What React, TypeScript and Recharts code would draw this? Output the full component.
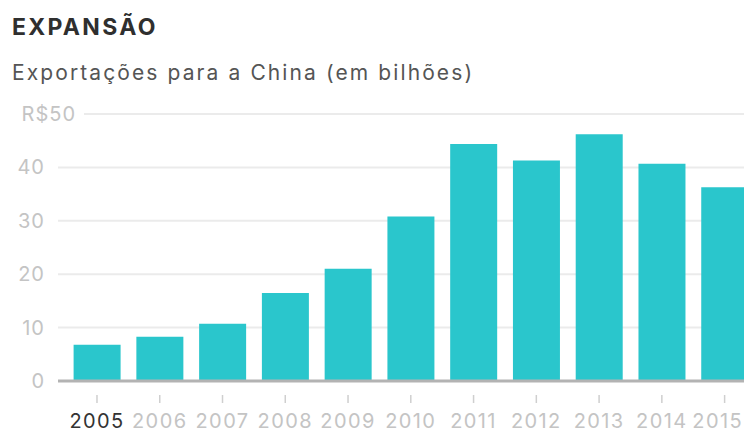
import { Bar, BarChart, CartesianGrid, XAxis, YAxis } from "recharts";

const YEARS = ["2005", "2006", "2007", "2008", "2009", "2010", "2011", "2012", "2013", "2014", "2015"];
const EXPORTS = [6.8, 8.3, 10.7, 16.5, 21.0, 30.8, 44.4, 41.3, 46.2, 40.7, 36.3];
const Y_TICKS = [0, 10, 20, 30, 40, 50];

const TITLE = "EXPANSÃO";
const SUBTITLE = "Exportações para a China (em bilhões)";

const COLORS = {
  bar: "#2ac6cc",
  grid: "#ebebeb",
  axis: "#b3b3b3",
  tick: "#c4c4c4",
  tickMark: "#cfcfcf",
  firstYear: "#333333",
  title: "#2f2f2f",
  subtitle: "#555555",
};

const FONT = "Inter, 'Open Sans', sans-serif";

const data = YEARS.map((year, i) => ({ year, value: EXPORTS[i] }));

function YTick({ y, payload }: any) {
  const top = payload.value === Y_TICKS[Y_TICKS.length - 1];
  return (
    <text
      x={top ? 76 : 45}
      y={y}
      textAnchor="end"
      dominantBaseline="central"
      fontSize={20}
      letterSpacing={1}
      fontFamily={FONT}
      fill={COLORS.tick}
    >
      {top ? `R$${payload.value}` : payload.value}
    </text>
  );
}

function XTick({ x, y, payload, index }: any) {
  // the last label is pulled in so it stays inside the frame
  const last = index === YEARS.length - 1;
  return (
    <g>
      <line x1={x} x2={x} y1={y + 14} y2={y + 22} stroke={COLORS.tickMark} strokeWidth={1.5} />
      <text
        x={last ? 743 : x}
        y={y + 47}
        textAnchor={last ? "end" : "middle"}
        fontSize={20}
        letterSpacing={1.4}
        fontFamily={FONT}
        fill={index === 0 ? COLORS.firstYear : COLORS.tick}
      >
        {payload.value}
      </text>
    </g>
  );
}

function gridLine(p: any) {
  // the top line starts after the wider "R$50" label
  const x1 = p.index === Y_TICKS.length - 1 || p.y1 < 120 ? 84 : p.x1;
  return <line key={p.key} x1={x1} x2={p.x2} y1={p.y1} y2={p.y2} stroke={COLORS.grid} strokeWidth={2} />;
}

export default function App() {
  return (
    <div
      style={{
        position: "fixed",
        left: 0,
        top: 0,
        width: 744,
        height: 432,
        overflow: "hidden",
        background: "#fff",
        fontFamily: FONT,
      }}
    >
      <div
        style={{
          position: "absolute",
          left: 12,
          top: 13,
          fontSize: 23,
          fontWeight: 700,
          letterSpacing: 2.3,
          color: COLORS.title,
          whiteSpace: "nowrap",
        }}
      >
        {TITLE}
      </div>
      <div
        style={{
          position: "absolute",
          left: 12,
          top: 60,
          fontSize: 21,
          letterSpacing: 2.1,
          color: COLORS.subtitle,
          whiteSpace: "nowrap",
        }}
      >
        {SUBTITLE}
      </div>
      <div style={{ position: "absolute", left: 0, top: 0 }}>
        <BarChart width={756} height={432} data={data} margin={{ top: 114, right: 0, bottom: 0, left: 0 }}>
          <CartesianGrid vertical={false} horizontal={gridLine} />
          <YAxis
            width={58}
            domain={[0, 50]}
            ticks={Y_TICKS}
            axisLine={false}
            tickLine={false}
            tick={<YTick />}
          />
          <XAxis
            dataKey="year"
            height={51}
            padding={{ left: 7.6, right: 0 }}
            tickSize={0}
            tickMargin={0}
            tickLine={false}
            axisLine={{ stroke: COLORS.axis, strokeWidth: 3 }}
            tick={<XTick />}
            interval={0}
          />
          <Bar dataKey="value" fill={COLORS.bar} barSize={47} isAnimationActive={false} />
        </BarChart>
      </div>
    </div>
  );
}
